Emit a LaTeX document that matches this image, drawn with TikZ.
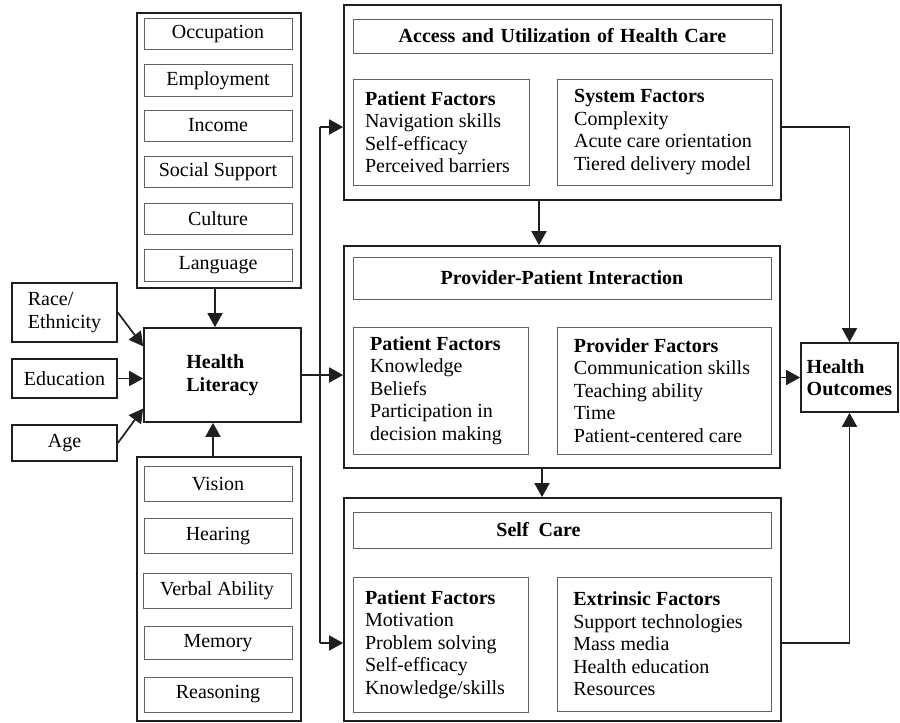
\documentclass[tikz,border=0pt]{standalone}
\usepackage{fontspec}
\setmainfont{Liberation Serif}
\usetikzlibrary{arrows.meta,calc}
\newcommand{\padr}[1]{\rule{#1}{0pt}}
\begin{document}
\begin{tikzpicture}[x=1pt,y=-1pt,
  outer/.style={draw=black!88, line width=1.7pt, rectangle, inner sep=0pt},
  inbox/.style={draw=black!62, line width=1pt, rectangle, inner sep=0pt},
  txt/.style={font=\fontsize{20}{22.5}\selectfont},
  bftxt/.style={font=\fontsize{20}{22.5}\selectfont\bfseries},
  conn/.style={draw=black!88, line width=1.7pt},
  arr/.style={conn, -{Triangle[length=14pt,width=15pt]}},
]
\useasboundingbox (0,0) rectangle (900,723);

% ---------- left column: social factors ----------
\node[outer, minimum width=164pt, minimum height=275pt] (social) at (219,150.5) {};
\node[inbox, txt, minimum width=148pt, minimum height=31pt] (occ) at (218,34) {Occupation};
\node[inbox, txt, minimum width=148pt, minimum height=32pt] (emp) at (218,80.5) {Employment};
\node[inbox, txt, minimum width=148pt, minimum height=31pt] (inc) at (218,125.5) {Income};
\node[inbox, txt, minimum width=148pt, minimum height=31pt] (soc) at (218,171.5) {Social Support};
\node[inbox, txt, minimum width=148pt, minimum height=31pt] (cul) at (218,219) {Culture};
\node[inbox, txt, minimum width=148pt, minimum height=32pt] (lan) at (218,265) {Language};

% ---------- left column: cognitive factors ----------
\node[outer, minimum width=164pt, minimum height=264pt] (cog) at (219,589) {};
\node[inbox, txt, minimum width=148pt, minimum height=35pt] (vis) at (218,484) {Vision};
\node[inbox, txt, minimum width=148pt, minimum height=35pt] (hea) at (218,536) {Hearing};
\node[inbox, txt, minimum width=148pt, minimum height=35pt] (ver) at (217,591) {Verbal Ability};
\node[inbox, txt, minimum width=148pt, minimum height=33pt] (mem) at (218,643) {Memory};
\node[inbox, txt, minimum width=148pt, minimum height=35pt] (rea) at (218,694.5) {Reasoning};

% ---------- far left ----------
\node[outer, txt, minimum width=105pt, minimum height=59pt, align=left] (race) at (64.5,312.5) {Race/\\Ethnicity};
\node[outer, txt, minimum width=105pt, minimum height=39pt] (edu) at (64.5,378.5) {Education};
\node[outer, txt, minimum width=105pt, minimum height=36pt] (age) at (64.5,443) {Age};

% ---------- health literacy ----------
\node[outer, bftxt, minimum width=157pt, minimum height=94pt, align=left] (hl) at (222.5,375) {Health\\Literacy};

% ---------- access ----------
\node[outer, minimum width=437pt, minimum height=195pt] (acc) at (562.5,102.5) {};
\node[inbox, bftxt, minimum width=419pt, minimum height=34pt] (acct) at (562.5,36) {\spaceskip=6.5pt Access and Utilization of Health Care};
\node[inbox, txt, minimum width=176pt, minimum height=106pt, align=left] (accp) at (441,132)
  {\textbf{Patient Factors}\\Navigation skills\\Self-efficacy\\Perceived barriers\padr{7pt}};
\node[inbox, txt, minimum width=215pt, minimum height=106pt, align=left] (accs) at (664.5,132)
  {\textbf{System Factors}\\Complexity\\Acute care orientation\padr{3pt}\\Tiered delivery model};

% ---------- provider-patient interaction ----------
\node[outer, minimum width=436pt, minimum height=222pt] (ppi) at (562,357) {};
\node[inbox, bftxt, minimum width=418pt, minimum height=42pt] (ppit) at (562,278) {Provider-Patient Interaction};
\node[inbox, txt, minimum width=175pt, minimum height=127pt, align=left] (ppip) at (440.5,390.5)
  {\textbf{Patient Factors}\\Knowledge\\Beliefs\\Participation in\\decision making\padr{9pt}};
\node[inbox, txt, minimum width=214pt, minimum height=127pt, align=left] (ppiv) at (664,390.5)
  {\textbf{Provider Factors}\\Communication skills\padr{4pt}\\Teaching ability\\Time\\Patient-centered care};

% ---------- self care ----------
\node[outer, minimum width=437pt, minimum height=223pt] (sc) at (562.5,609.5) {};
\node[inbox, bftxt, minimum width=418pt, minimum height=36pt] (sct) at (562,530) {\hspace*{-47pt}Self\ \ Care};
\node[inbox, txt, minimum width=175pt, minimum height=135pt, align=left] (scp) at (440.5,644.5)
  {\textbf{Patient Factors}\\Motivation\\Problem solving\\Self-efficacy\\Knowledge/skills\padr{11pt}};
\node[inbox, txt, minimum width=214pt, minimum height=134pt, align=left] (sce) at (664,644)
  {\textbf{Extrinsic Factors}\\Support technologies\padr{12pt}\\Mass media\\Health education\\Resources};

% ---------- health outcomes ----------
\node[outer, bftxt, minimum width=97pt, minimum height=69pt, align=left] (ho) at (849.5,377.5) {Health\\Outcomes};

% ---------- helper coordinates ----------
\coordinate (xA) at (215,0);
\coordinate (xB) at (213,0);
\coordinate (busTop) at (320,127);
\coordinate (busBot) at (320,643);
\coordinate (xC) at (539,0);
\coordinate (xD) at (542,0);

% ---------- connectors ----------
\draw[arr] (social.south -| xA) -- (hl.north -| xA);
\draw[arr] (cog.north -| xB) -- (hl.south -| xB);
\draw[arr] (race.east) -- ($(hl.north west)!0.2!(hl.south west)$);
\draw[arr] (edu.east) -- (hl.west |- edu.east);
\draw[arr] (age.east) -- ($(hl.north west)!0.85!(hl.south west)$);
\draw[arr] (hl.east) -- (ppi.west |- hl.east);
\draw[conn] (busTop) -- (busBot);
\draw[arr] (busTop) -- (acc.west |- busTop);
\draw[arr] (busBot) -- (sc.west |- busBot);
\draw[arr] (acc.south -| xC) -- (ppi.north -| xC);
\draw[arr] (ppi.south -| xD) -- (sc.north -| xD);
\draw[arr] (acc.east |- busTop) -| (ho.north);
\draw[arr] (ppi.east |- ho.west) -- (ho.west);
\draw[arr] (sc.east |- busBot) -| (ho.south);
\end{tikzpicture}
\end{document}
